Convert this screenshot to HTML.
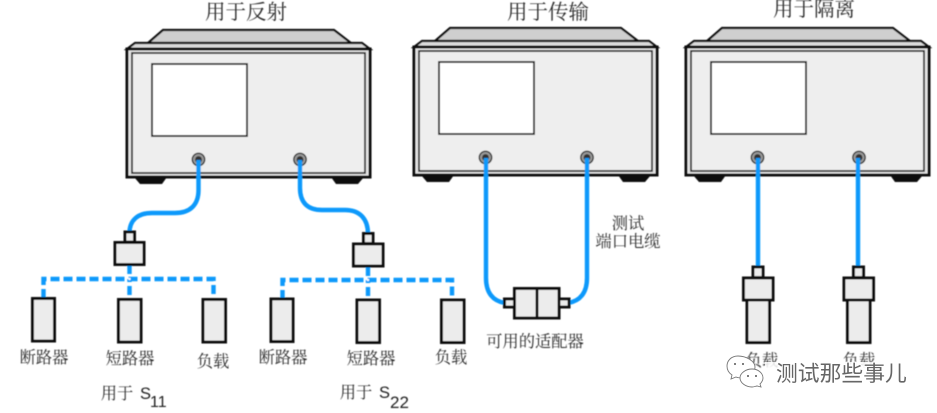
<!DOCTYPE html>
<html>
<head>
<meta charset="utf-8">
<style>
html,body{margin:0;padding:0;background:#fff;}
svg{display:block;}
.g{filter:url(#b);}
text{font-family:"Noto Serif CJK SC","Liberation Serif",serif;fill:#2c2c2c;}
.t{font-size:20.5px;text-anchor:middle;}
.l{font-size:16.3px;text-anchor:middle;}
.s{font-family:"Liberation Sans",sans-serif;font-size:16.5px;fill:#222;}
.c{fill:none;stroke:#0799fb;stroke-width:4.4;}
.d{fill:none;stroke:#0799fb;stroke-width:4.4;stroke-dasharray:9 4;}
.b{fill:#ececec;stroke:#0a0a0a;stroke-width:3;}
.wm{font-family:"Noto Sans CJK SC","Liberation Sans",sans-serif;font-size:21.8px;fill:#666;}
</style>
</head>
<body>
<svg width="937" height="413" viewBox="0 0 937 413" xmlns="http://www.w3.org/2000/svg">
<defs>
<filter id="b" x="-2%" y="-2%" width="104%" height="104%"><feGaussianBlur stdDeviation="0.5"/></filter>
<g id="inst">
  <path d="M21 -6L36 -19H207L224 -6Z" fill="#cfcfcf" stroke="#111" stroke-width="2.2"/>
  <path d="M0 0L8 -6H235L243 0Z" fill="#dcdcdc" stroke="#111" stroke-width="2.2"/>
  <path d="M7 128L13 135H35L40 128Z" fill="#0a0a0a"/>
  <path d="M204 128L209 135H231L237 128Z" fill="#0a0a0a"/>
  <rect x="0" y="0" width="243" height="128" fill="#e4e4e4" stroke="#0a0a0a" stroke-width="3"/>
  <rect x="5" y="4" width="233" height="120" fill="#eeeeee" stroke="#222" stroke-width="1.7"/>
  <rect x="25" y="15" width="95" height="72" fill="#fff" stroke="#222" stroke-width="1.8"/>
  <circle cx="71.5" cy="110.5" r="6.2" fill="#999" stroke="#333" stroke-width="1.4"/>
  <circle cx="71.5" cy="110.5" r="3.4" fill="#333"/>
  <circle cx="173" cy="110.5" r="6.2" fill="#999" stroke="#333" stroke-width="1.4"/>
  <circle cx="173" cy="110.5" r="3.4" fill="#333"/>
</g>
</defs>
<g class="g">
  <use href="#inst" x="127" y="49"/>
  <use href="#inst" x="414" y="47"/>
  <use href="#inst" x="686" y="47"/>

  <!-- cables -->
  <path class="c" d="M198.5 160V190C198.5 205 190 213 175 213H152C138 213 129.5 220 129.5 233"/>
  <path class="c" d="M300 160V188C300 203 308 210 322 210H345C360 210 368 219 368 234"/>
  <path class="c" d="M486 158V278C486 293 493 301 505 303"/>
  <path class="c" d="M587 158V278C587 293 580 301 568 303"/>
  <path class="c" d="M758 158V268"/>
  <path class="c" d="M858 158V268"/>

  <!-- group 1 -->
  <path class="c" d="M129.500 264V274"/>
  <path class="d" d="M43.500 298V279H213.500V299"/>
  <path class="d" d="M129.500 279V299" stroke-dashoffset="6"/>
  <circle cx="129.500" cy="279" r="1.2" fill="#fff"/>
  <rect class="b" x="125" y="232" width="9.500" height="10"/>
  <rect class="b" x="115" y="242.500" width="29" height="22"/>
  <rect class="b" x="32.500" y="298.500" width="22" height="42.500"/>
  <rect class="b" x="118.500" y="299.500" width="22.500" height="42.500"/>
  <rect class="b" x="203" y="299.500" width="22.500" height="42.500"/>

  <!-- group 2 -->
  <path class="c" d="M368 266V276"/>
  <path class="d" d="M282.500 299V280H452V300"/>
  <path class="d" d="M368 280V300" stroke-dashoffset="6"/>
  <circle cx="368" cy="280" r="1.2" fill="#fff"/>
  <rect class="b" x="363.500" y="233.500" width="9.500" height="10"/>
  <rect class="b" x="353.500" y="244" width="29.500" height="22"/>
  <rect class="b" x="271" y="299" width="22" height="42.500"/>
  <rect class="b" x="357" y="300" width="22.500" height="42.500"/>
  <rect class="b" x="441.500" y="300" width="22.500" height="42.500"/>

  <!-- adapter -->
  <rect class="b" x="504.500" y="299" width="10" height="8"/>
  <rect class="b" x="559" y="299" width="10" height="8"/>
  <rect class="b" x="514.500" y="288.500" width="22.500" height="29.500"/>
  <rect class="b" x="537" y="288.500" width="22" height="29.500"/>

  <!-- loads -->
  <rect class="b" x="747" y="300" width="22.500" height="42.500"/>
  <rect class="b" x="753" y="267" width="10" height="10.500"/>
  <rect class="b" x="743.500" y="278" width="29.500" height="22"/>
  <rect class="b" x="847.500" y="300" width="22.500" height="42.500"/>
  <rect class="b" x="853.500" y="267" width="10" height="10.500"/>
  <rect class="b" x="844" y="278" width="29.500" height="22"/>

  <!-- titles -->
  <text class="t" x="246" y="19">用于反射</text>
  <text class="t" x="548" y="19">用于传输</text>
  <text class="t" x="814" y="16">用于隔离</text>

  <!-- labels -->
  <text class="l" x="44" y="363">断路器</text>
  <text class="l" x="130" y="364">短路器</text>
  <text class="l" x="213" y="367">负载</text>
  <text class="l" x="283" y="363">断路器</text>
  <text class="l" x="371" y="364">短路器</text>
  <text class="l" x="451" y="363">负载</text>
  <text class="l" x="117" y="399">用于</text>
  <text class="s" x="140" y="399">S</text>
  <text class="s" x="150" y="407" style="font-size:16px">11</text>
  <text class="l" x="356" y="398">用于</text>
  <text class="s" x="379" y="398">S</text>
  <text class="s" x="390" y="408" style="font-size:17px">22</text>
  <text class="l" x="628" y="229">测试</text>
  <text class="l" x="628" y="247">端口电缆</text>
  <text class="l" x="535" y="347">可用的适配器</text>

  <text class="l" x="762" y="366">负载</text>
  <text class="l" x="859" y="366">负载</text>
</g>

<!-- watermark -->
<rect x="765" y="362" width="145" height="24" fill="#fff" opacity="0.85"/>
<g fill="#fff" stroke="#777" stroke-width="0.9">
  <path d="M738 356C731 356 727 361 727 366C727 370 729 373 732 375L731 379L736 377C738 378 740 378 743 378C750 378 755 373 755 367C755 361 746 356 738 356Z"/>
  <path d="M752 369C746 369 740 373 740 378C740 383 746 387 752 387C754 387 756 386 757 386L761 387L760 384C762 382 763 380 763 378C763 373 758 369 752 369Z"/>
</g>
<g fill="#555">
  <circle cx="735" cy="364" r="1"/><circle cx="743" cy="364" r="1"/>
  <circle cx="748" cy="376" r="1"/><circle cx="756" cy="376" r="1"/>
</g>
<text class="wm" x="776" y="381" stroke="#fff" stroke-width="2" paint-order="stroke">测试那些事儿</text>
</svg>
</body>
</html>
